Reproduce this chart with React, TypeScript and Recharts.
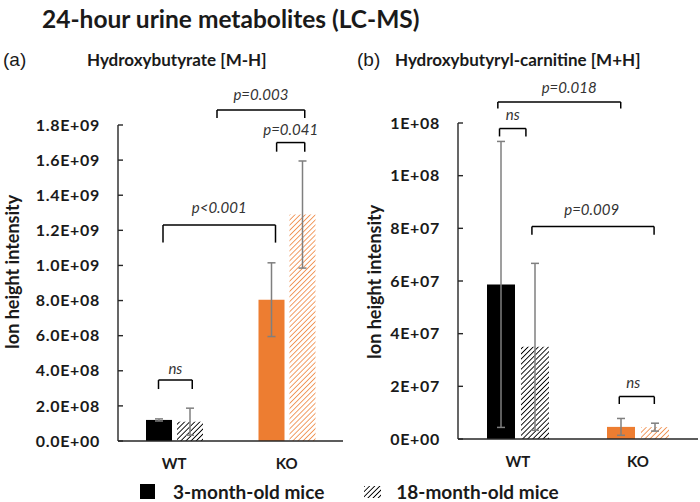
import { BarChart, Bar, Cell, XAxis, YAxis, ErrorBar, ReferenceLine, ReferenceDot } from 'recharts';

const ORANGE = '#ED7D31';
const INK = '#1a1a1a';

const groups = ['WT', 'KO'];

// (a) Hydroxybutyrate [M-H]
const hbMean3 = [1.2e8, 8.05e8];
const hbErr3 = [0.06e8, 2.1e8];
const hbMean18 = [1.1e8, 1.29e9];
const hbErr18 = [0.77e8, 3.05e8];
const hbTicks = [0, 2e8, 4e8, 6e8, 8e8, 1e9, 1.2e9, 1.4e9, 1.6e9, 1.8e9];

// (b) Hydroxybutyryl-carnitine [M+H]
const hcMean3 = [5.87e7, 0.46e7];
const hcErr3 = [5.43e7, 0.32e7];
const hcMean18 = [3.5e7, 0.45e7];
const hcErr18 = [3.17e7, 0.15e7];
const hcTicks = [0, 2e7, 4e7, 6e7, 8e7, 1e8, 1.2e8];

// significance brackets, x as fraction of the category axis (WT at 0.25, KO at 0.75), y in data units
type Bracket = { x1: number; x2: number; top: number; foot: number; text: string; ty: number; tx?: number };

const hbBrackets: Bracket[] = [
  { x1: 0.18, x2: 0.33, top: 3.47e8, foot: 2.96e8, text: 'ns', ty: 4.1e8 },
  { x1: 0.2, x2: 0.7, top: 1.23e9, foot: 1.13e9, text: 'p<0.001', ty: 1.328e9 },
  { x1: 0.44, x2: 0.83, top: 1.886e9, foot: 1.84e9, text: 'p=0.003', ty: 1.971e9 },
  { x1: 0.705, x2: 0.83, top: 1.7e9, foot: 1.648e9, text: 'p=0.041', ty: 1.772e9 },
];

const hcBrackets: Bracket[] = [
  { x1: 0.173, x2: 0.283, top: 1.179e8, foot: 1.149e8, text: 'ns', ty: 1.232e8 },
  { x1: 0.166, x2: 0.678, top: 1.28e8, foot: 1.255e8, text: 'p=0.018', ty: 1.335e8, tx: 0.463 },
  { x1: 0.308, x2: 0.817, top: 8.07e7, foot: 7.76e7, text: 'p=0.009', ty: 8.71e7, tx: 0.557 },
  { x1: 0.672, x2: 0.818, top: 1.61e7, foot: 1.33e7, text: 'ns', ty: 2.13e7, tx: 0.73 },
];

const hbData = groups.map((g, i) => ({ group: g, m3: hbMean3[i], e3: hbErr3[i], m18: hbMean18[i], e18: hbErr18[i] }));
const hcData = groups.map((g, i) => ({ group: g, m3: hcMean3[i], e3: hcErr3[i], m18: hcMean18[i], e18: hcErr18[i] }));

function expFmt(digits: number) {
  return (v: number) => {
    const [m, e] = v.toExponential(digits).split('e');
    return `${m}E${e[0]}${e.slice(1).padStart(2, '0')}`;
  };
}

function brackets(list: Bracket[]) {
  const line = { stroke: '#000', strokeWidth: 1.5, xAxisId: 'n', ifOverflow: 'visible' as const };
  return list.map((b, i) => (
    <g key={i}>
      <ReferenceLine {...line} segment={[{ x: b.x1, y: b.top }, { x: b.x2, y: b.top }]} />
      <ReferenceLine {...line} segment={[{ x: b.x1, y: b.top }, { x: b.x1, y: b.foot }]} />
      <ReferenceLine {...line} segment={[{ x: b.x2, y: b.top }, { x: b.x2, y: b.foot }]} />
      <ReferenceDot
        xAxisId="n"
        x={b.tx ?? (b.x1 + b.x2) / 2}
        y={b.ty}
        r={0}
        fill="none"
        stroke="none"
        ifOverflow="visible"
        label={{ value: b.text, position: 'center', fill: '#333', fontSize: 15, fontStyle: 'italic' }}
      />
    </g>
  ));
}

const tickStyle = { fill: INK, fontSize: 16, fontWeight: 700, fontFamily: 'Lato, sans-serif', letterSpacing: 0.7 };
const xTickStyle = { fill: INK, fontSize: 15, fontWeight: 700, fontFamily: 'Lato, sans-serif' };
const axisStroke = { stroke: '#262626', strokeWidth: 1.4 };

function Panel({ data, ticks, fmt, list, yWidth, margin, barSize, barGap, labelDx, labelDy }: any) {
  return (
    <BarChart width={350} height={480} data={data} margin={margin} barSize={barSize} barGap={barGap}>
      <XAxis
        dataKey="group"
        tickLine={false}
        tickSize={0}
        tickMargin={17}
        axisLine={axisStroke}
        tick={xTickStyle}
      />
      <XAxis xAxisId="n" type="number" domain={[0, 1]} allowDataOverflow hide />
      <YAxis
        domain={[0, ticks[ticks.length - 1]]}
        ticks={ticks}
        interval={0}
        width={yWidth}
        tickFormatter={fmt}
        tickSize={-5}
        tickMargin={23}
        tickLine={axisStroke}
        axisLine={axisStroke}
        tick={tickStyle}
        label={{
          value: 'Ion height intensity',
          angle: -90,
          position: 'center',
          dx: labelDx,
          dy: labelDy,
          fill: INK,
          fontSize: 18,
          fontWeight: 700,
          fontFamily: 'Lato, sans-serif',
        }}
      />
      <Bar dataKey="m3" isAnimationActive={false}>
        {data.map((_: any, i: number) => (
          <Cell key={i} fill={i === 0 ? '#000' : ORANGE} />
        ))}
        <ErrorBar dataKey="e3" width={4} stroke="#7f7f7f" strokeWidth={1.5} />
      </Bar>
      <Bar dataKey="m18" isAnimationActive={false}>
        {data.map((_: any, i: number) => (
          <Cell key={i} fill={i === 0 ? 'url(#hatchBlack)' : 'url(#hatchOrange)'} />
        ))}
        <ErrorBar dataKey="e18" width={4} stroke="#7f7f7f" strokeWidth={1.5} />
      </Bar>
      {brackets(list)}
    </BarChart>
  );
}

export default function App() {
  return (
    <div
      style={{
        position: 'absolute',
        left: 0,
        top: 0,
        width: 700,
        height: 502,
        background: '#fff',
        fontFamily: 'Lato, sans-serif',
        color: INK,
        overflow: 'hidden',
      }}
    >
      <svg width={0} height={0} style={{ position: 'absolute' }}>
        <defs>
          <pattern id="hatchBlack" patternUnits="userSpaceOnUse" width={3.6} height={3.6} patternTransform="rotate(45)">
            <rect width={3.6} height={3.6} fill="#fff" />
            <line x1={0} y1={0} x2={0} y2={3.6} stroke="#000" strokeWidth={1.8} />
          </pattern>
          <pattern id="hatchOrange" patternUnits="userSpaceOnUse" width={3.6} height={3.6} patternTransform="rotate(45)">
            <rect width={3.6} height={3.6} fill="#fff" />
            <line x1={0} y1={0} x2={0} y2={3.6} stroke={ORANGE} strokeWidth={1.5} />
          </pattern>
        </defs>
      </svg>

      <div style={{ position: 'absolute', left: 42, top: 4, fontSize: 24.5, fontWeight: 700, whiteSpace: 'nowrap' }}>
        24-hour urine metabolites (LC-MS)
      </div>
      <div style={{ position: 'absolute', left: 3, top: 49, fontSize: 19, fontFamily: 'Liberation Sans, sans-serif' }}>(a)</div>
      <div style={{ position: 'absolute', left: 87, top: 49, fontSize: 17, fontWeight: 700, whiteSpace: 'nowrap' }}>
        Hydroxybutyrate [M-H]
      </div>
      <div style={{ position: 'absolute', left: 357, top: 49, fontSize: 19, fontFamily: 'Liberation Sans, sans-serif' }}>(b)</div>
      <div style={{ position: 'absolute', left: 395, top: 49, fontSize: 17, fontWeight: 700, whiteSpace: 'nowrap' }}>
        Hydroxybutyryl-carnitine [M+H]
      </div>

      <div style={{ position: 'absolute', left: 0, top: 0 }}>
        <Panel
          data={hbData}
          ticks={hbTicks}
          fmt={expFmt(1)}
          list={hbBrackets}
          yWidth={118}
          margin={{ top: 125, right: 7, bottom: 9, left: 0 }}
          barSize={26}
          barGap={5}
          labelDx={-46}
          labelDy={-11}
        />
      </div>
      <div style={{ position: 'absolute', left: 350, top: 0 }}>
        <Panel
          data={hcData}
          ticks={hcTicks}
          fmt={expFmt(0)}
          list={hcBrackets}
          yWidth={108}
          margin={{ top: 123, right: 2, bottom: 11, left: 0 }}
          barSize={28}
          barGap={6}
          labelDx={-29}
          labelDy={1}
        />
      </div>

      <div
        style={{
          position: 'absolute',
          left: 140,
          top: 481,
          height: 21,
          lineHeight: '21px',
          display: 'flex',
          alignItems: 'center',
          fontSize: 19,
          fontWeight: 700,
          whiteSpace: 'nowrap',
        }}
      >
        <span style={{ display: 'inline-block', width: 15, height: 15, background: '#000', marginRight: 18 }} />
        <span>3-month-old mice</span>
        <svg width={17} height={12} style={{ marginLeft: 40, marginRight: 15 }}>
          <rect width={17} height={12} fill="url(#hatchBlack)" />
        </svg>
        <span>18-month-old mice</span>
      </div>
    </div>
  );
}
